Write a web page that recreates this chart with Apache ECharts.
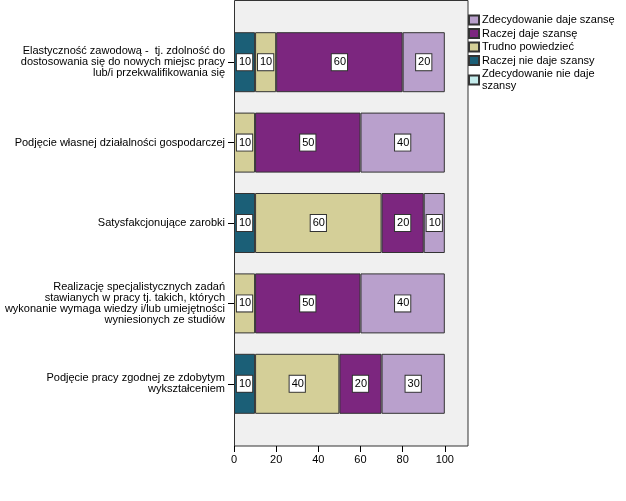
<!DOCTYPE html>
<html>
<head>
<meta charset="utf-8">
<script src="https://cdn.jsdelivr.net/npm/echarts@6/dist/echarts.min.js"></script>
<style>html,body{margin:0;padding:0;background:#fff}#c{width:626px;height:501px}</style>
</head>
<body>
<div id="c"></div>
<script>
const categories = [
  "Elastyczność zawodową -  tj. zdolność do\ndostosowania się do nowych miejsc pracy\nlub/i przekwalifikowania się",
  "Podjęcie własnej działalności gospodarczej",
  "Satysfakcjonujące zarobki",
  "Realizację specjalistycznych zadań\nstawianych w pracy tj. takich, których\nwykonanie wymaga wiedzy i/lub umiejętności\nwyniesionych ze studiów",
  "Podjęcie pracy zgodnej ze zdobytym\nwykształceniem"
];
const seriesNames = ["Zdecydowanie nie daje szansy", "Raczej nie daje szansy", "Trudno powiedzieć", "Raczej daje szansę", "Zdecydowanie daje szansę"];
const zdecydowanieNie = [null, null, null, null, null];
const raczejNie = [10, null, 10, null, 10];
const trudno = [10, 10, 60, 10, 40];
const raczejTak = [60, 50, 20, 50, 20];
const zdecydowanieTak = [20, 40, 10, 40, 30];
const xTicks = [0, 20, 40, 60, 80, 100];

const colors = ["#c4ecec", "#1b5f77", "#d4cf98", "#7c267f", "#b9a0cc"];
const values = [zdecydowanieNie, raczejNie, trudno, raczejTak, zdecydowanieTak];

const chart = echarts.init(document.getElementById('c'), null, {renderer: 'canvas'});
const font = 'Liberation Sans, Arial, sans-serif';
chart.setOption({
  animation: false,
  textStyle: {fontFamily: font},
  grid: {left: 234, right: 158, top: 22, bottom: 77, containLabel: false},
  graphic: [{
    type: 'rect', z: -10,
    shape: {x: 234.5, y: 0.5, width: 233.5, height: 445.5},
    style: {fill: '#f0f0f0', stroke: '#333', lineWidth: 1}
  }],
  xAxis: {
    type: 'value', min: 0, max: 111, interval: 20, offset: 22,
    axisLine: {show: false},
    splitLine: {show: false},
    axisTick: {show: true, length: 6, customValues: xTicks, lineStyle: {color: '#000'}},
    axisLabel: {customValues: xTicks, color: '#000', fontSize: 11, margin: 8, fontFamily: font}
  },
  yAxis: {
    type: 'category', inverse: true, data: categories,
    axisLine: {show: false},
    axisTick: {show: true, alignWithLabel: true, length: 6, lineStyle: {color: '#000'}},
    axisLabel: {color: '#000', fontSize: 11, lineHeight: 11, margin: 9, fontFamily: font}
  },
  legend: {
    orient: 'vertical', left: 468, top: 14, padding: 0,
    icon: 'rect',
    itemWidth: 10, itemHeight: 9, itemGap: 1.5,
    data: seriesNames.slice().reverse(),
    formatter: n => n === 'Zdecydowanie nie daje szansy' ? 'Zdecydowanie nie daje\nszansy' : n,
    textStyle: {color: '#000', fontSize: 11, lineHeight: 12, fontFamily: font, padding: [0, 0, 0, -2]}
  },
  series: seriesNames.map((name, i) => ({
    name, type: 'bar', stack: 'total', barWidth: 60,
    data: values[i],
    itemStyle: {color: colors[i], borderColor: '#333', borderWidth: 1},
    label: {
      show: true, position: 'inside', formatter: '{c}',
      color: '#000', fontSize: 11, fontFamily: font,
      backgroundColor: '#fff', borderColor: '#333', borderWidth: 1,
      padding: [3, 1, 2, 2]
    }
  }))
});
</script>
</body>
</html>
